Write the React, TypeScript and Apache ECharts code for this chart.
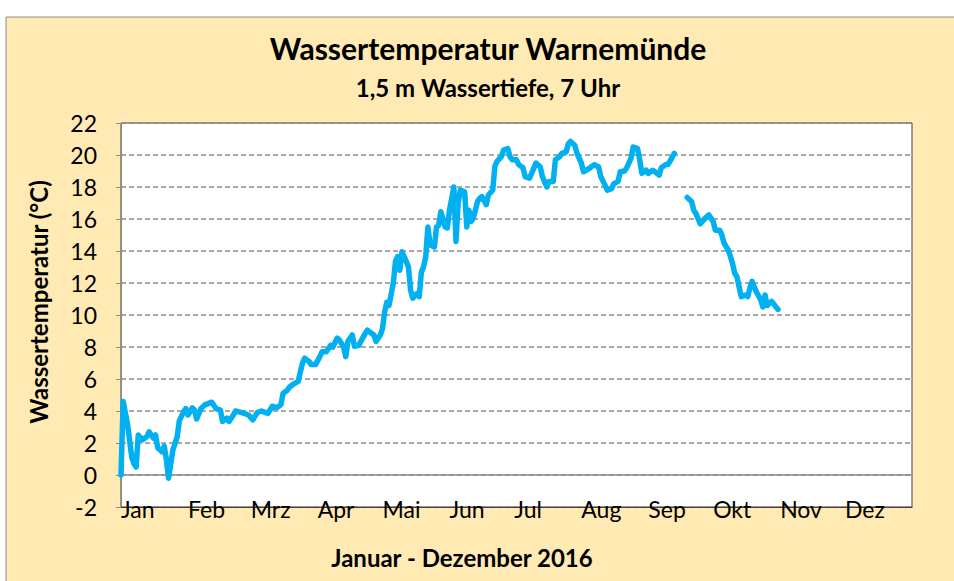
import React, { useEffect, useRef } from "react";
import * as echarts from "echarts";

// Day of year (0 = 1 Jan 2016) and water temperature (°C)
const days = [
  0, 1, 3, 5, 6, 7, 8, 10, 12, 13,
  15, 16, 17, 19, 20, 21, 22, 24, 26, 27,
  29, 30, 31, 33, 34, 35, 37, 39, 40, 42,
  44, 46, 47, 49, 50, 52, 53, 56, 59, 61,
  63, 65, 66, 68, 70, 72, 74, 75, 77, 78,
  80, 82, 83, 84, 85, 87, 88, 90, 92, 93,
  95, 97, 98, 100, 101, 103, 104, 105, 107, 108,
  110, 113, 114, 117, 118, 120, 121, 122, 123, 124,
  126, 127, 128, 129, 130, 132, 133, 134, 135, 137,
  138, 139, 140, 141, 142, 143, 145, 146, 147, 148,
  150, 151, 152, 154, 155, 156, 157, 159, 160, 161,
  162, 163, 165, 166, 167, 169, 170, 172, 173, 174,
  176, 177, 179, 180, 181, 183, 184, 186, 187, 189,
  190, 192, 194, 195, 197, 198, 200, 201, 203, 204,
  206, 207, 208, 210, 211, 213, 214, 217, 219, 221,
  222, 224, 225, 227, 228, 230, 231, 233, 234, 236,
  237, 239, 240, 241, 243, 244, 246, 247, 249, 250,
  252, 253, 254, 256, 259, 262, 264, 265, 266, 268,
  269, 271, 272, 274, 275, 277, 278, 279, 281, 282,
  283, 284, 285, 286, 287, 289, 290, 291, 292, 293,
  294, 296, 297, 298, 299, 301, 302, 303, 304,
];

const temps: (number | null)[] = [
  0, 4.6, 3.2, 1.1, 0.7, 0.5, 2.5, 2.2, 2.4, 2.7,
  2.3, 2.5, 1.7, 1.45, 1.8, 0.95, -0.2, 1.55, 2.4, 3.4,
  3.95, 4.15, 3.75, 4.2, 4.05, 3.5, 4.15, 4.4, 4.45, 4.55,
  4.15, 4.05, 3.35, 3.55, 3.35, 3.75, 4.0, 3.9, 3.75, 3.45,
  3.9, 4.0, 3.95, 3.85, 4.3, 4.2, 4.4, 5.1, 5.3, 5.5,
  5.7, 5.85, 6.45, 7.0, 7.3, 7.1, 6.9, 6.9, 7.4, 7.7,
  7.7, 8.1, 8.0, 8.55, 8.45, 8.0, 7.4, 8.35, 8.75, 8.05,
  8.1, 8.85, 9.05, 8.75, 8.35, 8.75, 9.15, 10.2, 10.8, 10.6,
  12.0, 13.35, 13.65, 12.8, 13.95, 13.35, 13.0, 11.55, 11.05, 11.35,
  11.15, 12.7, 13.0, 13.65, 15.5, 14.4, 14.25, 15.5, 15.6, 16.45,
  15.5, 15.45, 16.55, 18.0, 14.6, 17.0, 17.8, 17.7, 15.5, 16.55,
  15.85, 16.05, 17.1, 17.3, 17.4, 16.9, 17.5, 17.8, 19.3, 19.6,
  19.9, 20.3, 20.4, 19.9, 19.7, 19.7, 19.4, 19.2, 18.65, 18.55,
  18.85, 19.5, 19.25, 18.65, 18.0, 18.35, 18.35, 19.7, 19.9, 20.1,
  20.2, 20.7, 20.85, 20.6, 20.1, 19.5, 18.95, 19.2, 19.4, 19.25,
  18.65, 18.1, 17.8, 17.9, 18.2, 18.35, 18.95, 19.0, 19.2, 19.8,
  20.5, 20.4, 19.7, 18.85, 19.05, 18.85, 19.05, 18.95, 18.75, 19.2,
  19.4, 19.4, 19.6, 20.1, null, 17.35, 17.1, 16.55, 16.35, 15.7,
  15.85, 16.15, 16.25, 15.85, 15.3, 15.3, 15.0, 14.5, 14.05, 13.65,
  13.2, 12.6, 12.4, 11.75, 11.15, 11.25, 11.15, 11.7, 12.1, 11.75,
  11.45, 10.95, 10.5, 11.25, 10.6, 10.85, 10.7, 10.5, 10.35,
];

const monthStarts = [0, 31, 60, 91, 121, 152, 182, 213, 244, 274, 305, 335];
const monthNames = ["Jan", "Feb", "Mrz", "Apr", "Mai", "Jun", "Jul", "Aug", "Sep", "Okt", "Nov", "Dez"];
const yTicks = [-2, 0, 2, 4, 6, 8, 10, 12, 14, 16, 18, 20, 22];

const titleText = "Wassertemperatur Warnemünde";
const subtitleText = "1,5 m Wassertiefe, 7 Uhr";
const xAxisTitle = "Januar - Dezember 2016";
const yAxisTitle = "Wassertemperatur (°C)";

const FONT = "Lato, 'Open Sans', sans-serif";

export default function App() {
  const ref = useRef<HTMLDivElement>(null);
  useEffect(() => {
    if (!ref.current) return;
    const chart = echarts.init(ref.current, undefined, { renderer: "svg" });
    const data = days.map((d, i) => [d, temps[i] === null ? "-" : temps[i]]);
    chart.setOption({
      animation: false,
      backgroundColor: "#ffffff",
      graphic: [
        {
          type: "rect",
          z: -10,
          shape: { x: 6, y: 17, width: 960, height: 580 },
          style: { fill: "#FFEAB4", stroke: "#8c8c8c", lineWidth: 1 },
        },
        {
          type: "text",
          x: 488,
          y: 48,
          style: {
            text: titleText,
            font: `bold 30px ${FONT}`,
            fill: "#000",
            align: "center",
            verticalAlign: "middle",
          },
        },
        {
          type: "text",
          x: 488,
          y: 87,
          style: {
            text: subtitleText,
            font: `bold 24px ${FONT}`,
            fill: "#000",
            align: "center",
            verticalAlign: "middle",
          },
        },
        {
          type: "text",
          x: 462,
          y: 557,
          style: {
            text: xAxisTitle,
            font: `bold 24px ${FONT}`,
            fill: "#000",
            align: "center",
            verticalAlign: "middle",
          },
        },
        {
          type: "text",
          x: 38,
          y: 302,
          rotation: Math.PI / 2,
          style: {
            text: yAxisTitle,
            font: `bold 24px ${FONT}`,
            fill: "#000",
            align: "center",
            verticalAlign: "middle",
          },
        },
      ],
      grid: {
        left: 121,
        top: 123,
        width: 791,
        height: 384,
        show: true,
        backgroundColor: "#ffffff",
        borderColor: "#404040",
        borderWidth: 1,
      },
      xAxis: {
        type: "value",
        min: 0,
        max: 366,
        axisLine: { show: true, onZero: false, lineStyle: { color: "#404040", width: 1 } },
        axisTick: { show: false },
        splitLine: { show: false },
        axisLabel: {
          customValues: monthStarts,
          formatter: (v: number) => monthNames[monthStarts.indexOf(v)] ?? "",
          align: "left",
          margin: -10,
          fontSize: 23,
          fontFamily: FONT,
          color: "#000",
          showMinLabel: true,
          showMaxLabel: true,
        },
      },
      yAxis: {
        type: "value",
        min: -2,
        max: 22,
        interval: 2,
        axisLine: { show: true, lineStyle: { color: "#888888", width: 1 } },
        axisTick: { show: true, length: 5, lineStyle: { color: "#888888" } },
        axisLabel: {
          margin: 24,
          fontSize: 23,
          fontFamily: FONT,
          color: "#000",
          formatter: (v: number) => (yTicks.includes(v) ? String(v) : ""),
        },
        splitLine: {
          show: true,
          lineStyle: { color: "#8c8c8c", width: 1.5, type: [5, 3] },
        },
      },
      series: [
        {
          type: "line",
          data,
          showSymbol: false,
          symbol: "none",
          connectNulls: false,
          lineStyle: { color: "#00B0F0", width: 5.5, join: "round", cap: "round" },
          itemStyle: { color: "#00B0F0" },
          z: 3,
          markLine: {
            silent: true,
            symbol: "none",
            label: { show: false },
            lineStyle: { color: "#8c8c8c", type: "solid", width: 1.5 },
            data: [{ yAxis: 0 }],
            z: 1,
          },
        },
      ],
    });
    return () => chart.dispose();
  }, []);
  return (
    <div
      ref={ref}
      style={{ position: "fixed", left: 0, top: 0, width: 954, height: 581 }}
    />
  );
}
